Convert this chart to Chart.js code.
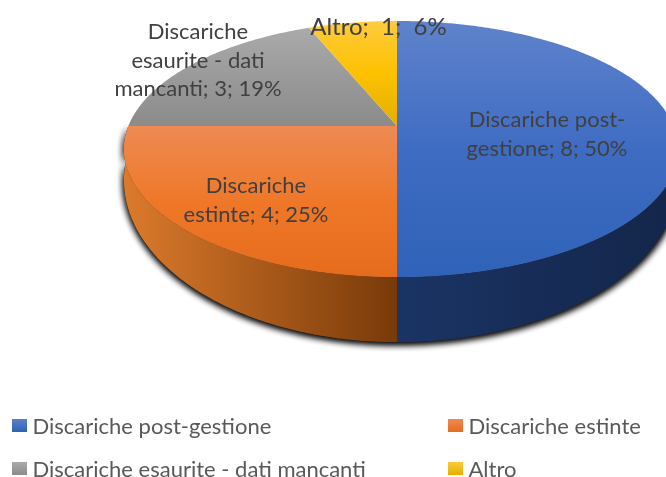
<!DOCTYPE html>
<html>
<head>
<meta charset="utf-8">
<style>
  html, body { margin: 0; padding: 0; background: #fff; overflow: hidden; }
  canvas { display: block; }
</style>
<script src="https://cdn.jsdelivr.net/npm/chart.js@4"></script>
</head>
<body>
<canvas id="chart" width="666" height="477"></canvas>
<script>
const categories = ['Discariche post-gestione', 'Discariche estinte', 'Discariche esaurite - dati mancanti', 'Altro'];
const values = [8, 4, 3, 1];
const labelLines = [
  ['Discariche post-', 'gestione; 8; 50%'],
  ['Discariche', 'estinte; 4; 25%'],
  ['Discariche', 'esaurite - dati', 'mancanti; 3; 19%'],
  ['Altro;  1;  6%']
];

// top face colours, light -> dark going down, plus the wall colours left -> right
const faceColors = [
  ['#5f83cb', '#3f6cc3', '#2f62b8'],
  ['#ee8a53', '#ef7828', '#e56c1c'],
  ['#aaaaaa', '#9a9a9a', '#8b8b8b'],
  ['#ffcb3d', '#fdc100', '#e2af00']
];
const wallColors = [
  ['#1a3464', '#14264b'],
  ['#dc7a2c', '#783a09']
];
const swatchColors = [
  ['#5a80ca', '#2f62b8'],
  ['#ee8a53', '#e56c1c'],
  ['#aaaaaa', '#8b8b8b'],
  ['#ffcb3d', '#e2af00']
];

// where the tilted disc sits on the page. the picture is a bit wider on the right
const disc = { cx: 397, rxLeft: 268.6, rxRight: 276.5, tilt: 0.18 };
const topRim = { cy: 126, ry: 123.9 };
const bottomRim = { cy: 151, ry: 156.7 };
const labelPos = [[547, 120, 29], [256, 186, 29], [198, 32, 28.5], [378.5, 27, 0]];
const labelSize = [22, 22, 22, 24];
const legendPos = [[12, 427], [448, 427], [12, 470], [448, 470]];

function project(a, rim) {
  const u = Math.cos(a), v = Math.sin(a);
  const w = 1 - disc.tilt * v;
  const rx = u < 0 ? disc.rxLeft : disc.rxRight;
  return [disc.cx + rx * u / w, rim.cy + rim.ry * v / w];
}

function rimPath(ctx, from, to, rim, first) {
  const steps = Math.max(2, Math.ceil(Math.abs(to - from) / 0.01));
  for (let i = 0; i <= steps; i++) {
    const p = project(from + (to - from) * i / steps, rim);
    if (i === 0 && first) ctx.moveTo(p[0], p[1]);
    else ctx.lineTo(p[0], p[1]);
  }
}

function vGradient(ctx, y0, y1, stops) {
  const g = ctx.createLinearGradient(0, y0, 0, y1);
  stops.forEach((c, i) => g.addColorStop(i / (stops.length - 1), c));
  return g;
}

const pie3d = {
  id: 'pie3d',
  beforeDatasetsDraw(chart) {
    const ctx = chart.ctx;
    const arcs = chart.getDatasetMeta(0).data;
    const bottom = Math.PI / 2;

    // shadow + silhouette of the wall, filled twice so the shadow gets dark enough
    ctx.save();
    ctx.shadowColor = 'rgba(0,0,0,0.95)';
    ctx.shadowBlur = 7;
    ctx.shadowOffsetY = 2;
    ctx.fillStyle = '#333';
    ctx.beginPath();
    rimPath(ctx, 0, Math.PI, topRim, true);
    rimPath(ctx, Math.PI, 0, bottomRim, false);
    ctx.closePath();
    ctx.fill();
    ctx.fill();
    ctx.restore();

    // walls of the two front slices
    [[0, bottom, 397, 666], [bottom, Math.PI, 397, 124]].forEach((w, i) => {
      const g = ctx.createLinearGradient(w[3], 0, w[2], 0);
      g.addColorStop(0, wallColors[i][i === 0 ? 1 : 0]);
      g.addColorStop(1, wallColors[i][i === 0 ? 0 : 1]);
      ctx.fillStyle = g;
      ctx.beginPath();
      rimPath(ctx, w[0], w[1], topRim, true);
      rimPath(ctx, w[1], w[0], bottomRim, false);
      ctx.closePath();
      ctx.fill();
    });

    // top face, slice angles come from the chart's arc elements
    arcs.forEach((arc, i) => {
      let ys = [topRim.cy];
      for (let a = arc.startAngle; a <= arc.endAngle; a += 0.01) ys.push(project(a, topRim)[1]);
      ctx.fillStyle = vGradient(ctx, Math.min(...ys), Math.max(...ys), faceColors[i]);
      ctx.beginPath();
      ctx.moveTo(disc.cx, topRim.cy);
      rimPath(ctx, arc.startAngle, arc.endAngle, topRim, false);
      ctx.closePath();
      ctx.fill();
    });
    return false;
  },
  afterDraw(chart) {
    const ctx = chart.ctx;
    ctx.save();
    ctx.textBaseline = 'middle';

    // data labels
    ctx.fillStyle = '#404040';
    ctx.textAlign = 'center';
    labelLines.forEach((lines, i) => {
      ctx.font = labelSize[i] + 'px Lato';
      lines.forEach((line, n) => {
        ctx.fillText(line, labelPos[i][0], labelPos[i][1] + n * labelPos[i][2]);
      });
    });

    // legend
    ctx.textAlign = 'left';
    ctx.font = '22px Lato';
    chart.data.labels.forEach((name, i) => {
      const x = legendPos[i][0], y = legendPos[i][1];
      ctx.fillStyle = vGradient(ctx, y - 8, y + 5, swatchColors[i]);
      ctx.fillRect(x, y - 8, 15, 13);
      ctx.fillStyle = '#595959';
      ctx.fillText(name, x + 20.5, y);
    });
    ctx.restore();
  }
};

new Chart(document.getElementById('chart'), {
  type: 'pie',
  data: {
    labels: categories,
    datasets: [{ data: values, backgroundColor: faceColors.map(c => c[1]), borderWidth: 0 }]
  },
  options: {
    responsive: false,
    animation: false,
    plugins: {
      legend: { display: false },
      tooltip: { enabled: false }
    }
  },
  plugins: [pie3d]
});
</script>
</body>
</html>
